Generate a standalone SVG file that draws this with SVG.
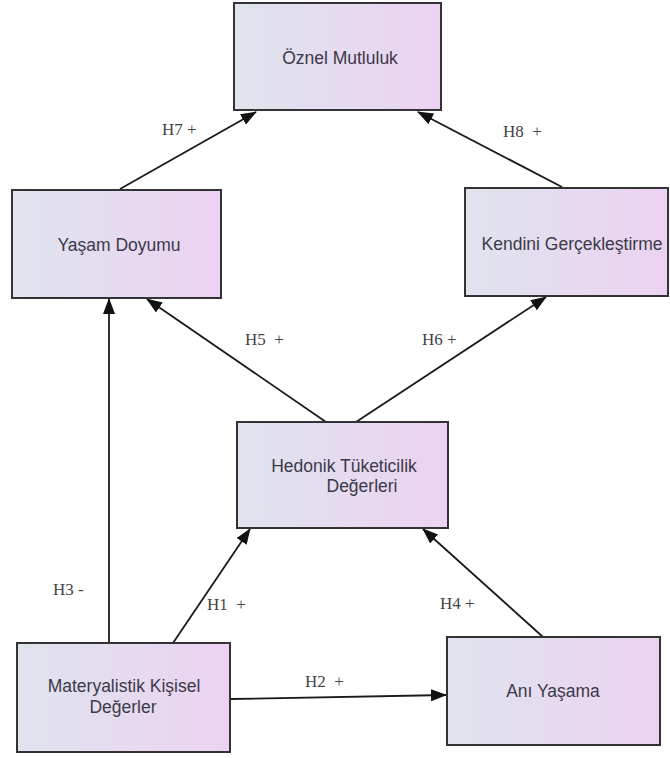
<svg xmlns="http://www.w3.org/2000/svg" width="670" height="758" viewBox="0 0 670 758">
<defs>
<linearGradient id="g" x1="0" y1="0" x2="1" y2="0">
<stop offset="0" stop-color="#dfe4ee"/>
<stop offset="1" stop-color="#ecd2f2"/>
</linearGradient>
<marker id="ah" markerWidth="16" markerHeight="12" refX="15" refY="6" orient="auto" markerUnits="userSpaceOnUse">
<path d="M0,0 L16,6 L0,12 Z" fill="#111"/>
</marker>
</defs>
<style>
.box{fill:url(#g);stroke:#333;stroke-width:2}
.t{font-family:"Liberation Sans",Arial,sans-serif;font-size:17.5px;fill:#3c3a48;text-anchor:middle}
.l{font-family:"Liberation Serif","Times New Roman",serif;font-size:17px;fill:#444;white-space:pre}
.c{stroke:#1a1a1a;stroke-width:1.8;fill:none;marker-end:url(#ah)}
</style>
<rect width="670" height="758" fill="#fff"/>
<g id="connectors">
<line class="c" x1="120" y1="189" x2="256" y2="112"/>
<line class="c" x1="562" y1="187" x2="418" y2="112"/>
<line class="c" x1="326" y1="422" x2="147" y2="299"/>
<line class="c" x1="356" y1="422" x2="546" y2="297"/>
<line class="c" x1="109" y1="643" x2="109" y2="299"/>
<line class="c" x1="173" y1="643" x2="250" y2="529"/>
<line class="c" x1="543" y1="637" x2="423" y2="529"/>
<line class="c" x1="231" y1="699" x2="446" y2="695"/>
<text class="l" x="162" y="135">H7 +</text>
<text class="l" x="503" y="137">H8  +</text>
<text class="l" x="245" y="345">H5  +</text>
<text class="l" x="422" y="345">H6 +</text>
<text class="l" x="53" y="595">H3 -</text>
<text class="l" x="207" y="610">H1  +</text>
<text class="l" x="440" y="609">H4 +</text>
<text class="l" x="305" y="687">H2  +</text>
</g>
<g id="oznel">
<rect class="box" x="234" y="3" width="207" height="107"/>
<text class="t" x="340" y="64">Öznel Mutluluk</text>
</g>
<g id="yasam">
<rect class="box" x="12" y="190" width="209" height="108"/>
<text class="t" x="119" y="251">Yaşam Doyumu</text>
</g>
<g id="kendini">
<rect class="box" x="465" y="188" width="203" height="108"/>
<text class="t" x="572" y="250">Kendini Gerçekleştirme</text>
</g>
<g id="hedonik">
<rect class="box" x="237" y="422" width="211" height="106"/>
<text class="t" x="344" y="472">Hedonik Tüketicilik</text>
<text class="t" x="362" y="492">Değerleri</text>
</g>
<g id="materyalistik">
<rect class="box" x="17" y="643" width="213" height="109"/>
<text class="t" x="124" y="692">Materyalistik Kişisel</text>
<text class="t" x="123" y="713">Değerler</text>
</g>
<g id="ani">
<rect class="box" x="447" y="637" width="213" height="108"/>
<text class="t" x="553" y="697">Anı Yaşama</text>
</g>
</svg>
